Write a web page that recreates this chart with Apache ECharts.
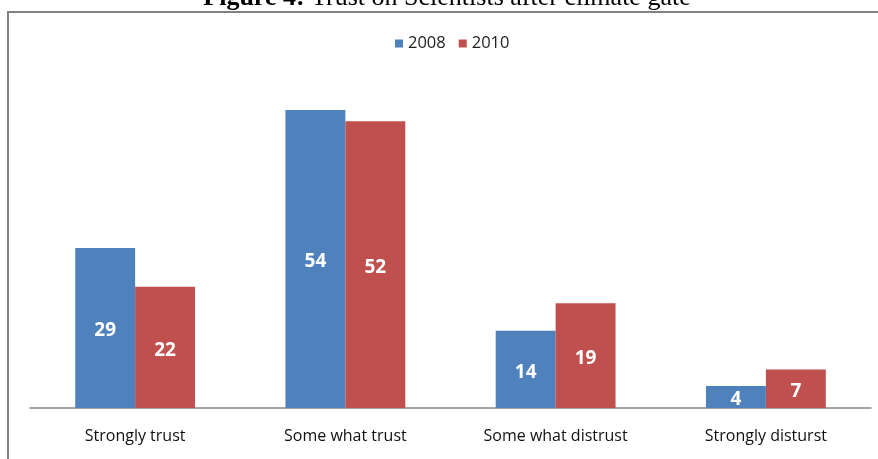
<!DOCTYPE html>
<html>
<head>
<meta charset="utf-8">
<script src="https://cdn.jsdelivr.net/npm/echarts@6/dist/echarts.min.js"></script>
<style>html,body{margin:0;padding:0;background:#fff;}#c{width:878px;height:459px;}</style>
</head>
<body>
<div id="c"></div>
<script>
var categories = ['Strongly trust', 'Some what trust', 'Some what distrust', 'Strongly disturst'];
var seriesNames = ['2008', '2010'];
var values2008 = [29, 54, 14, 4];
var values2010 = [22, 52, 19, 7];
var titleBold = 'Figure 4:';
var titleRest = ' Trust on Scientists after climate gate';

var chart = echarts.init(document.getElementById('c'), null, {renderer: 'canvas'});
var labelStyle = {show: true, position: 'inside', offset: [0, 3], color: '#fff', fontWeight: 'bold', fontSize: 19, fontFamily: 'Open Sans'};
chart.setOption({
  animation: false,
  backgroundColor: '#fff',
  graphic: [
    {type: 'rect', shape: {x: 8, y: 12, width: 900, height: 480}, style: {fill: 'none', stroke: '#808080', lineWidth: 2}},
    {type: 'text', x: 447, y: 11, style: {
      text: '{b|' + titleBold + '}{r|' + titleRest + '}',
      align: 'center', verticalAlign: 'bottom',
      rich: {
        b: {fontFamily: 'Liberation Serif', fontWeight: 'bold', fontSize: 26, fill: '#000'},
        r: {fontFamily: 'Liberation Serif', fontSize: 26, fill: '#000'}
      }
    }}
  ],
  legend: {
    data: seriesNames,
    left: 390, top: 30,
    itemWidth: 8, itemHeight: 8, itemGap: 13,
    icon: 'rect',
    textStyle: {fontSize: 16.5, color: '#222', fontFamily: 'Open Sans'}
  },
  grid: {left: 30, right: 7, top: 77, bottom: 51, containLabel: false},
  xAxis: {
    type: 'category', data: categories,
    axisLine: {lineStyle: {color: '#888', width: 1.5}},
    axisTick: {show: false},
    axisLabel: {fontSize: 16, color: '#111', fontFamily: 'Open Sans', margin: 20}
  },
  yAxis: {type: 'value', min: 0, max: 60, show: false, splitLine: {show: false}},
  series: [
    {name: seriesNames[0], type: 'bar', data: values2008, itemStyle: {color: '#4F81BD'}, barGap: '0%', barCategoryGap: '43%', label: labelStyle},
    {name: seriesNames[1], type: 'bar', data: values2010, itemStyle: {color: '#C0504D'}, barGap: '0%', barCategoryGap: '43%', label: labelStyle}
  ]
});
</script>
</body>
</html>
